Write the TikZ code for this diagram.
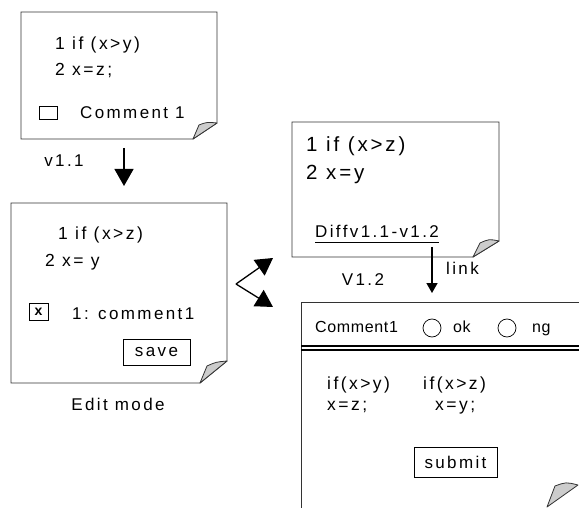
\documentclass[tikz,border=0pt]{standalone}
\usepackage{fontspec}
\setmainfont{Liberation Sans}
\newfontfamily\uifont[LetterSpace=14]{Liberation Sans}
\newfontfamily\hdrfont[LetterSpace=4]{Liberation Sans}
\usetikzlibrary{arrows.meta}

\begin{document}
\begin{tikzpicture}[x=1pt,y=-1pt,
    paper/.style={draw=black!80,line width=0.9pt},
    fold/.style={draw=black!80,fill=black!20,line width=0.8pt,line join=round},
    txt/.style={anchor=base west,inner sep=0pt,font=\uifont\fontsize{17.5}{20}\selectfont},
    bigtxt/.style={txt,font=\uifont\fontsize{20.5}{23}\selectfont},
    lbl/.style={txt,font=\uifont\fontsize{17}{19}\selectfont},
    hdr/.style={txt,font=\hdrfont\fontsize{16}{18}\selectfont},
    btn/.style={draw,line width=0.8pt,inner sep=0pt,font=\uifont\fontsize{17}{19}\selectfont},
    radio/.style={circle,draw,line width=0.7pt,minimum size=18pt,inner sep=0pt},
    bigarrow/.style={line width=1.3pt,-{Triangle[width=19pt,length=17pt]}},
    smallarrow/.style={line width=1.6pt,-{Triangle[width=11pt,length=10pt]}}]

    \useasboundingbox (0,0) rectangle (579,508);

    % Version 1.1 with comment
    \draw[paper] (21,12) -- (217,12) -- (217,123) -- (193,139) -- (21,139) -- cycle;
    \draw[fold] (193,139) -- (199,125) .. controls (207,122) .. (217,123) -- cycle;
    \node[txt] (oldif) at (55,50) {1 if (x>y)};
    \node[txt] (oldassign) at (55,76) {2 x=z;};
    \node[draw,line width=0.7pt,minimum width=18pt,minimum height=13pt,inner sep=0pt] (oldbox) at (48,112.5) {};
    \node[lbl] (oldcomment) at (80,119) {Comment 1};
    \node[lbl,anchor=base] (vold) at (64,167) {v1.1};

    \coordinate (down1) at (124,148);
    \coordinate (down2) at (124,186);
    \draw[bigarrow] (down1) -- (down2);

    % Edit mode
    \draw[paper] (11,203) -- (227,203) -- (227,361) -- (200,383) -- (11,383) -- cycle;
    \draw[fold] (200,383) -- (207,366) .. controls (216,362) .. (227,361) -- cycle;
    \node[txt] (editif) at (58,240) {1 if (x>z)};
    \node[txt] (editassign) at (45,266) {2 x= y};
    \node[draw,line width=0.7pt,minimum width=19pt,minimum height=17pt,inner sep=0pt,
        font=\bfseries\fontsize{14}{16}\selectfont] (editbox) at (38.5,312) {x};
    \node[lbl] (editcomment) at (72,319) {1: comment1};
    \node[btn,minimum width=67pt,minimum height=26pt] (save) at (156.5,352) {save};
    \node[lbl,anchor=base] (editmode) at (118,410) {Edit mode};

    % Fork to both views
    \coordinate (fork) at (236,284);
    \coordinate (toview) at (273,258);
    \coordinate (tocheck) at (273,307);
    \draw[bigarrow] (fork) -- (toview);
    \draw[bigarrow] (fork) -- (tocheck);

    % Version 1.2
    \draw[paper] (292,122) -- (499,122) -- (499,241) -- (473,257) -- (292,257) -- cycle;
    \draw[fold] (473,257) -- (480,243) .. controls (489,239) .. (499,241) -- cycle;
    \node[bigtxt] (newif) at (306,152) {1 if (x>z)};
    \node[bigtxt] (newassign) at (306,180) {2 x=y};
    \node[lbl] (difflink) at (315,238) {Diffv1.1-v1.2};
    \draw[line width=0.8pt] ([yshift=-4pt]difflink.base west) -- ([yshift=-4pt]difflink.base east);
    \node[lbl,anchor=base] (vnew) at (363,285) {V1.2};

    \coordinate (linktop) at (432,247);
    \coordinate (linkend) at (432,293);
    \draw[smallarrow] (linktop) -- (linkend);
    \node[lbl] (linklabel) at (446,275) {link};

    % Check view
    \draw[paper] (579,302) -- (301,302) -- (301,508);
    \draw[fold] (547,507) -- (555,486) .. controls (566,482) .. (578,485) -- cycle;
    \node[hdr] (hdrcomment) at (315,332) {Comment1};
    \node[radio] (okradio) at (432,328) {};
    \node[hdr] (ok) at (453,332) {ok};
    \node[radio] (ngradio) at (507,328) {};
    \node[hdr] (ng) at (532,332) {ng};
    \draw[line width=1.8pt] (301,346) -- (579,346);
    \draw[line width=1.6pt] (301,350) -- (579,350);
    \node[txt] (oldcond) at (327,389) {if(x>y)};
    \node[txt] (newcond) at (423,389) {if(x>z)};
    \node[txt] (oldbody) at (327,410) {x=z;};
    \node[txt] (newbody) at (435,410) {x=y;};
    \node[btn,minimum width=83pt,minimum height=30pt] (submit) at (455.5,462) {submit};
\end{tikzpicture}
\end{document}
